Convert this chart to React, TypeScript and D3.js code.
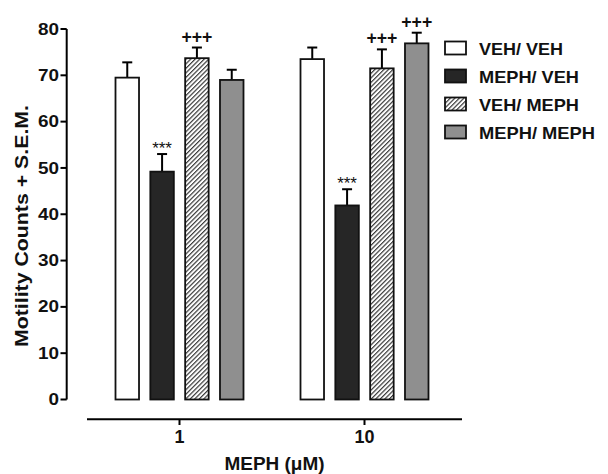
import * as d3 from 'd3';

// doses on the x axis
const doses = ['1', '10'];
// treatment groups (legend order)
const groups = ['VEH/ VEH', 'MEPH/ VEH', 'VEH/ MEPH', 'MEPH/ MEPH'];

// means per group, one value per dose
const vehVeh = [69.5, 73.5];
const mephVeh = [49.2, 41.9];
const vehMeph = [73.7, 71.5];
const mephMeph = [69.0, 76.9];

// S.E.M. per group
const vehVehSem = [3.3, 2.5];
const mephVehSem = [3.8, 3.5];
const vehMephSem = [2.3, 4.1];
const mephMephSem = [2.2, 2.3];

// significance marks
const vehVehMark = ['', ''];
const mephVehMark = ['***', '***'];
const vehMephMark = ['+++', '+++'];
const mephMephMark = ['', '+++'];

const yTicks = [0, 10, 20, 30, 40, 50, 60, 70, 80];

const FONT = "'Liberation Sans', Arial, sans-serif";

export default function App() {
  const width = 608, height = 474;

  const y = d3.scaleLinear().domain([0, 80]).range([399.5, 29]);
  const x0 = d3.scalePoint().domain(doses).range([87, 457]).padding(0.5);
  const x1 = d3.scaleBand().domain(groups).range([-64, 64]).paddingInner(0.325);

  const means = [vehVeh, mephVeh, vehMeph, mephMeph];
  const sems = [vehVehSem, mephVehSem, vehMephSem, mephMephSem];
  const marks = [vehVehMark, mephVehMark, vehMephMark, mephMephMark];
  const fills = ['#ffffff', '#262626', 'url(#hatch)', '#8f8f8f'];

  const bars: any[] = [];
  doses.forEach((dose, di) => {
    groups.forEach((g, gi) => {
      bars.push({
        dose, g, gi,
        x: (x0(dose) as number) + (x1(g) as number),
        v: means[gi][di],
        e: means[gi][di] + sems[gi][di],
        mark: marks[gi][di],
      });
    });
  });
  const bw = x1.bandwidth();

  const legendY = (i: number) => 48 + i * 28;
  const legendLen = [84, 100, 100, 116];

  return (
    <svg width={width} height={height} style={{ position: 'absolute', left: 0, top: 0, background: '#fff' }}
      fontFamily={FONT}>
      <defs>
        <pattern id="hatch" patternUnits="userSpaceOnUse" width={3.2} height={3.2} patternTransform="rotate(45)">
          <rect width={3.2} height={3.2} fill="#fff" />
          <line x1={0.6} y1={0} x2={0.6} y2={3.2} stroke="#3a3a3a" strokeWidth={1.2} />
        </pattern>
      </defs>

      {/* bars */}
      {bars.map((b, i) => (
        <g key={i}>
          <line x1={b.x + bw / 2} x2={b.x + bw / 2} y1={y(b.v)} y2={y(b.e)} stroke="#000" strokeWidth={2} />
          <line x1={b.x + bw / 2 - 5} x2={b.x + bw / 2 + 5} y1={y(b.e)} y2={y(b.e)} stroke="#000" strokeWidth={2} />
          <rect x={b.x} y={y(b.v)} width={bw} height={y(0) - y(b.v)} fill={fills[b.gi]} stroke="#111" strokeWidth={1.8} />
          {b.mark === '***' && (
            <text x={b.x + bw / 2} y={y(b.e) - 0.5} textAnchor="middle" fontSize={17} fill="#111">{b.mark}</text>
          )}
          {b.mark === '+++' && (
            <text x={b.x + bw / 2} y={y(b.e) - 5} textAnchor="middle" fontSize={18} fontWeight="bold" fill="#111"
              textLength={31} lengthAdjust="spacingAndGlyphs">{b.mark}</text>
          )}
        </g>
      ))}

      {/* y axis */}
      <line x1={66.7} x2={66.7} y1={y(80)} y2={y(0)} stroke="#000" strokeWidth={2} />
      {yTicks.map(t => (
        <g key={t}>
          <line x1={60.5} x2={66.7} y1={y(t)} y2={y(t)} stroke="#000" strokeWidth={2} />
          <text x={59} y={y(t) + 5.6} textAnchor="end" fontSize={16} fontWeight="bold" fill="#111"
            textLength={String(t).length * 10.5} lengthAdjust="spacingAndGlyphs">{t}</text>
        </g>
      ))}
      <text transform={`translate(28,226) rotate(-90)`} textAnchor="middle" fontSize={18} fontWeight="bold" fill="#111"
        textLength={242} lengthAdjust="spacingAndGlyphs">Motility Counts + S.E.M.</text>

      {/* x axis */}
      <line x1={87} x2={462} y1={419.3} y2={419.3} stroke="#000" strokeWidth={2} />
      {doses.map(d => (
        <g key={d}>
          <line x1={x0(d)} x2={x0(d)} y1={419.3} y2={425} stroke="#000" strokeWidth={2} />
          <text x={x0(d)} y={443} textAnchor="middle" fontSize={18} fontWeight="bold" fill="#111"
            textLength={d.length * 10} lengthAdjust="spacingAndGlyphs">{d}</text>
        </g>
      ))}
      <text x={274.5} y={470} textAnchor="middle" fontSize={18} fontWeight="bold" fill="#111"
        textLength={100} lengthAdjust="spacingAndGlyphs">MEPH (μM)</text>

      {/* legend */}
      {groups.map((g, i) => (
        <g key={g}>
          <rect x={445} y={legendY(i) - 6.5} width={21} height={13} fill={fills[i]} stroke="#111" strokeWidth={1.8} />
          <text x={479} y={legendY(i) + 6.5} fontSize={17} fontWeight="bold" fill="#111"
            textLength={legendLen[i]} lengthAdjust="spacingAndGlyphs">{g}</text>
        </g>
      ))}
    </svg>
  );
}
